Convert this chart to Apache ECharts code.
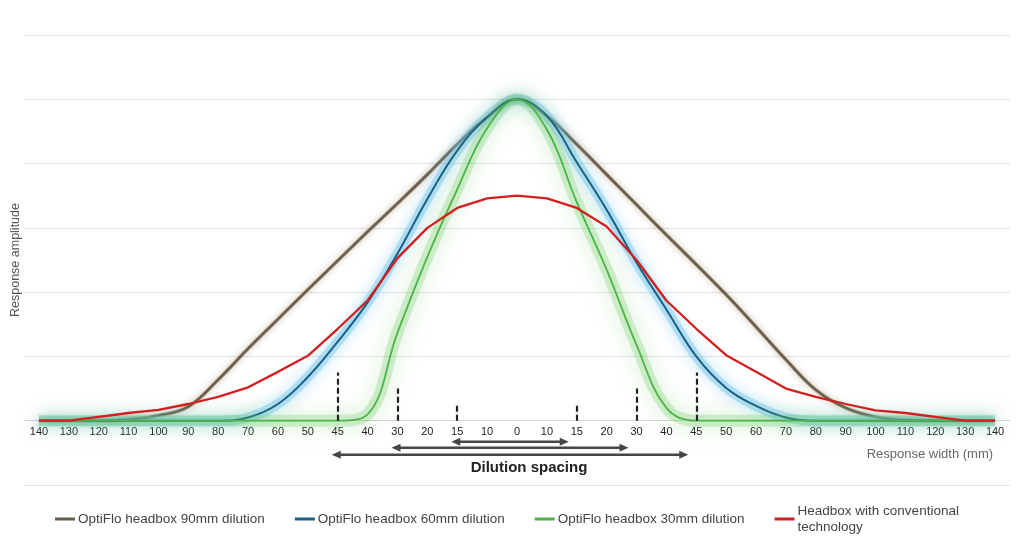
<!DOCTYPE html>
<html>
<head>
<meta charset="utf-8">
<script src="https://cdn.jsdelivr.net/npm/echarts@6/dist/echarts.min.js"></script>
<style>html,body{margin:0;padding:0;background:#fff}#main{width:1024px;height:545px}</style>
</head>
<body>
<div id="main"></div>
<script>
// response width labels (mm), left to right
var widths=['140','130','120','110','100','90','80','70','60','50','45','40','30','20','15','10','0',
	'10','15','20','30','40','45','50','60','70','80','90','100','110','120','130','140'];
var optiflo90=[0,0,0,0.02,0.08,0.22,0.64,1.12,1.58,2.04,2.49,2.94,3.38,3.83,4.3,4.72,5.0,
	4.74,4.3,3.83,3.36,2.89,2.43,1.96,1.46,0.95,0.48,0.2,0.06,0.01,0,0,0];
var optiflo60=[0,0,0,0,0,0,0,0.05,0.26,0.68,1.23,1.84,2.6,3.45,4.2,4.72,5.0,
	4.74,4.02,3.28,2.46,1.73,1.0,0.51,0.23,0.05,0,0,0,0,0,0,0];
var optiflo30=[0,0,0,0,0,0,0,0,0,0,0,0.1,1.37,2.55,3.6,4.55,5.0,
	4.53,3.4,2.35,1.18,0.2,0,0,0,0,0,0,0,0,0,0,0];
var conventional=[0,0,0.06,0.12,0.17,0.26,0.37,0.52,0.76,1.01,1.43,1.87,2.53,3.0,3.31,3.46,3.5,
	3.46,3.31,3.02,2.5,1.87,1.43,1.02,0.76,0.5,0.37,0.26,0.16,0.12,0.06,0,0];
var names=['OptiFlo headbox 90mm dilution','OptiFlo headbox 60mm dilution','OptiFlo headbox 30mm dilution','Headbox with conventional\ntechnology'];
var dilution=['45','30','15'];
var markerHeight=[0.75,0.5,0.25];

var font='Liberation Sans, Arial, sans-serif';
var mychart=echarts.init(document.getElementById('main'));

// dashed markers on both sides of 0
var marks=[];
for(var i=0;i<dilution.length;i++){
	var l=widths.indexOf(dilution[i]),r=widths.lastIndexOf(dilution[i]);
	marks.push([{coord:[l,0]},{coord:[l,markerHeight[i]]}]);
	marks.push([{coord:[r,0]},{coord:[r,markerHeight[i]]}]);
}

function glow(name,data,color,w,blur,a){
	return {name:name,type:'line',data:data,smooth:0.4,showSymbol:false,symbol:'none',silent:true,
		lineStyle:{width:w,color:color.replace('A',a),shadowBlur:blur,shadowColor:color.replace('A','1')}};
}
function line(name,data,color,w){
	return {name:name,type:'line',data:data,smooth:0.4,showSymbol:false,symbol:'none',
		lineStyle:{width:w,color:color},itemStyle:{color:color}};
}

var option={
	animation:false,
	grid:{left:24,right:14,top:35,bottom:60},
	legend:{
		data:names,left:50,top:498,icon:'rect',itemWidth:20,itemHeight:3,itemGap:30,
		textStyle:{fontFamily:font,fontSize:13.5,lineHeight:16,color:'#444',padding:[0,0,0,-2]}
	},
	xAxis:{
		type:'category',data:widths,boundaryGap:true,
		axisLine:{onZero:false,lineStyle:{color:'#d6d6d6'}},
		axisTick:{show:false},
		axisLabel:{interval:0,margin:6,fontFamily:font,fontSize:11,color:'#222'}
	},
	yAxis:{
		type:'value',min:-1,max:6,interval:1,
		name:'Response amplitude',nameLocation:'middle',nameGap:2,
		nameTextStyle:{fontFamily:font,fontSize:12.5,color:'#555'},
		axisLabel:{show:false},axisTick:{show:false},axisLine:{show:false},
		splitLine:{lineStyle:{color:'#e4e4e4'}}
	},
	series:[
		glow('g90',optiflo90,'rgba(150,130,100,A)',4,6,'0.45'),
		line(names[0],optiflo90,'#6b5d4c',2.5),
		glow('g60',optiflo60,'rgba(100,190,235,A)',10,14,'0.4'),
		line(names[1],optiflo60,'#1b5f82',2),
		glow('g30',optiflo30,'rgba(90,195,80,A)',12,22,'0.25'),
		line(names[2],optiflo30,'#4cb447',1.8),
		{name:names[3],type:'line',data:conventional,showSymbol:false,symbol:'none',
			lineStyle:{width:2.3,color:'#d3201f'},itemStyle:{color:'#d3201f'},
			markLine:{silent:true,symbol:['none','none'],label:{show:false},
				lineStyle:{color:'#222',width:2.2,type:[6,3]},data:marks}}
	]
};
mychart.setOption(option);

// put the x axis on the zero line
var y0=mychart.convertToPixel({yAxisIndex:0},0);
var yb=mychart.convertToPixel({yAxisIndex:0},-1);
mychart.setOption({xAxis:{offset:-(yb-y0)}});

// arrows and texts below the axis
var rowOff=[34,27,21];
var g=[];
function arrow(x1,x2,y){
	var c='#454545';
	g.push({type:'line',shape:{x1:x1+4,y1:y,x2:x2-4,y2:y},style:{stroke:c,lineWidth:2.5}});
	g.push({type:'polygon',shape:{points:[[x1,y],[x1+9,y-4],[x1+9,y+4]]},style:{fill:c}});
	g.push({type:'polygon',shape:{points:[[x2,y],[x2-9,y-4],[x2-9,y+4]]},style:{fill:c}});
}
for(var i=0;i<dilution.length;i++){
	var xl=mychart.convertToPixel({xAxisIndex:0},widths.indexOf(dilution[i]));
	var xr=mychart.convertToPixel({xAxisIndex:0},widths.lastIndexOf(dilution[i]));
	arrow(xl-6,xr-8,y0+rowOff[i]);
}
var xc=mychart.convertToPixel({xAxisIndex:0},widths.indexOf('0'));
var xe=mychart.convertToPixel({xAxisIndex:0},widths.length-1);
g.push({type:'text',x:xc+12,y:y0+47,style:{text:'Dilution spacing',fontFamily:font,fontSize:15,fontWeight:'bold',fill:'#222',align:'center',verticalAlign:'middle'}});
g.push({type:'text',x:xe-2,y:y0+34,style:{text:'Response width (mm)',fontFamily:font,fontSize:13,fill:'#666',align:'right',verticalAlign:'middle'}});
mychart.setOption({graphic:g});
</script>
</body>
</html>
